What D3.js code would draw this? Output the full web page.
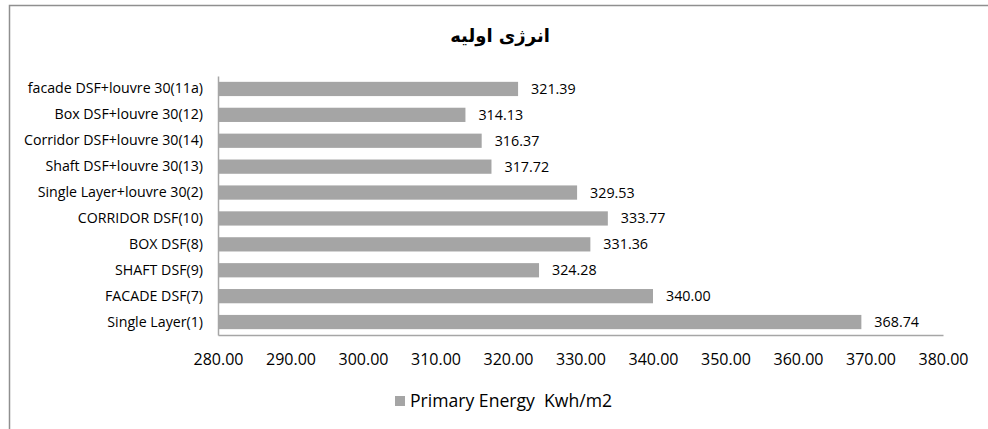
<!DOCTYPE html>
<html>
<head>
<meta charset="utf-8">
<script src="https://cdn.jsdelivr.net/npm/d3@7"></script>
<style>
  body { margin: 0; background: #fff; }
  svg text { font-family: "Open Sans", sans-serif; fill: #000; }
</style>
</head>
<body>
<div id="chart"></div>
<script>
const categories = ['facade DSF+louvre 30(11a)', 'Box DSF+louvre 30(12)', 'Corridor DSF+louvre 30(14)',
  'Shaft DSF+louvre 30(13)', 'Single Layer+louvre 30(2)', 'CORRIDOR DSF(10)', 'BOX DSF(8)',
  'SHAFT DSF(9)', 'FACADE DSF(7)', 'Single Layer(1)']
const values = [321.39, 314.13, 316.37, 317.72, 329.53, 333.77, 331.36, 324.28, 340.00, 368.74]
const x_ticks = [280, 290, 300, 310, 320, 330, 340, 350, 360, 370, 380]
const title = 'انرژی اولیه'
const series_name = 'Primary Energy  Kwh/m2'

const W = 988, H = 429
const svg = d3.select('#chart').append('svg').attr('width', W).attr('height', H)

// outer chart frame (right/bottom edges fall outside the window)
svg.append('path')
  .attr('d', 'M9.5,' + H + 'V5.5H' + W)
  .attr('fill', 'none').attr('stroke', '#8f8f8f').attr('stroke-width', 1.5)

const x = d3.scaleLinear().domain([280, 380]).range([218, 943])
const y = d3.scaleBand().domain(categories).range([76, 335]).paddingInner(0.45).paddingOuter(0.225)

svg.append('text')
  .attr('x', 500).attr('y', 42)
  .attr('text-anchor', 'middle')
  .style('font-family', '"DejaVu Sans", sans-serif')
  .style('font-weight', 'bold').style('font-size', '18px')
  .text(title)

svg.selectAll('rect.bar')
  .data(values)
  .enter().append('rect')
  .attr('class', 'bar')
  .attr('x', x(280))
  .attr('y', (d, i) => y(categories[i]))
  .attr('width', d => x(d) - x(280))
  .attr('height', y.bandwidth())
  .attr('fill', '#a5a5a5')

svg.selectAll('text.val')
  .data(values)
  .enter().append('text')
  .attr('class', 'val')
  .attr('x', d => x(d) + 13)
  .attr('y', (d, i) => y(categories[i]) + y.bandwidth() / 2)
  .attr('dy', '0.35em')
  .style('font-size', '14.3px')
  .text(d => d.toFixed(2))

// category axis
const y_axis = svg.append('g')
  .attr('transform', 'translate(' + x(280) + ',0)')
  .call(d3.axisLeft(y).tickSize(0).tickPadding(15))
y_axis.select('.domain').attr('stroke', '#a6a6a6').attr('stroke-width', 1.5)
y_axis.selectAll('text').style('font-size', '14.2px').style('font-family', '"Open Sans", sans-serif')

// value axis
const x_axis = svg.append('g')
  .attr('transform', 'translate(0,335)')
  .call(d3.axisBottom(x).tickValues(x_ticks).tickSize(0).tickPadding(19).tickFormat(d3.format('.2f')))
x_axis.select('.domain').attr('stroke', '#a6a6a6').attr('stroke-width', 1.5)
x_axis.selectAll('text').style('font-size', '16px').style('font-family', '"Open Sans", sans-serif')

// legend
const legend = svg.append('g').attr('transform', 'translate(395,396)')
legend.append('rect').attr('width', 10).attr('height', 10).attr('fill', '#a5a5a5')
legend.append('text').attr('x', 15).attr('y', 5).attr('dy', '0.35em')
  .style('font-size', '17.6px').style('white-space', 'pre').text(series_name)
</script>
</body>
</html>
